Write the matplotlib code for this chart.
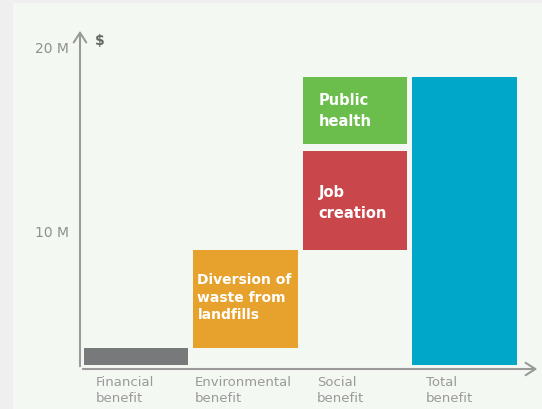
import matplotlib.pyplot as plt
from matplotlib.patches import Rectangle

# benefit segments, in millions of dollars
segments = ["Financial", "Diversion of\nwaste from\nlandfills", "Job\ncreation", "Public\nhealth", "Total"]
seg_column = [0, 1, 2, 2, 3]
seg_bottom = [2.8, 3.75, 9.05, 14.75, 2.8]
seg_top = [3.75, 9.05, 14.4, 18.4, 18.4]
seg_colors = ["#77797b", "#e6a22c", "#c9464a", "#6cbe4c", "#00a7c9"]

categories = ["Financial\nbenefit", "Environmental\nbenefit", "Social\nbenefit", "Total\nbenefit"]
cat_label_x = [-0.365, 0.54, 1.655, 2.65]
y_ticks = [10, 20]
y_tick_labels = ["10 M", "20 M"]

W, H = 542, 409
fig = plt.figure(figsize=(W / 100, H / 100), dpi=100)
fig.patch.set_facecolor("#efefef")
panel = Rectangle((13 / W, 0), 1, 1 - 3 / H, transform=fig.transFigure,
                  facecolor="#f4f8f2", edgecolor="none", zorder=-10)
fig.add_artist(panel)

ax = fig.add_axes([80 / W, 1 - 369 / H, 460 / W, 341 / H])
ax.set_facecolor("none")
ax.set_xlim(-0.51, 3.69)
ax.set_ylim(2.59, 21.03)

heights = [t - b for t, b in zip(seg_top, seg_bottom)]
ax.bar(seg_column, heights, bottom=seg_bottom, width=0.955, color=seg_colors, zorder=2)

# white labels inside the coloured blocks: (segment, x offset from bar edge, y shift, line spacing)
label_layout = [(1, 0.04, 0.05, 1.3), (2, 0.145, -0.17, 1.5), (3, 0.145, -0.03, 1.5)]
for i, dx, dy, ls in label_layout:
    ax.text(seg_column[i] - 0.4775 + dx, (seg_bottom[i] + seg_top[i]) / 2 + dy, segments[i],
            color="white", fontsize=10.5 if i > 1 else 10, fontweight="bold",
            va="center", ha="left", linespacing=ls, zorder=3)

for spine in ax.spines.values():
    spine.set_visible(False)
ax.set_xticks([])
ax.set_yticks(y_ticks)
ax.set_yticklabels(y_tick_labels, color="#8f8f8f", fontsize=10)
ax.tick_params(axis="y", length=0, pad=8)

# axis lines with open arrow heads
arrow = dict(arrowstyle="->,head_length=0.7,head_width=0.45", color="#9a9a9a", lw=1.5)
ax.annotate("", xy=(0, 1.0), xytext=(0, 0), xycoords="axes fraction", arrowprops=arrow)
ax.annotate("", xy=(1.0, 0), xytext=(0, 0), xycoords="axes fraction", arrowprops=arrow)

ax.text(-0.33, 20.3, "$", color="#666666", fontsize=10, fontweight="bold", ha="center", va="center")

for x, name in zip(cat_label_x, categories):
    ax.text(x, -0.02, name, transform=ax.get_xaxis_transform(), ha="left", va="top",
            color="#9a9a9a", fontsize=9.5, linespacing=1.3, clip_on=False)

fig.savefig("out.png", dpi=100, facecolor=fig.get_facecolor())
